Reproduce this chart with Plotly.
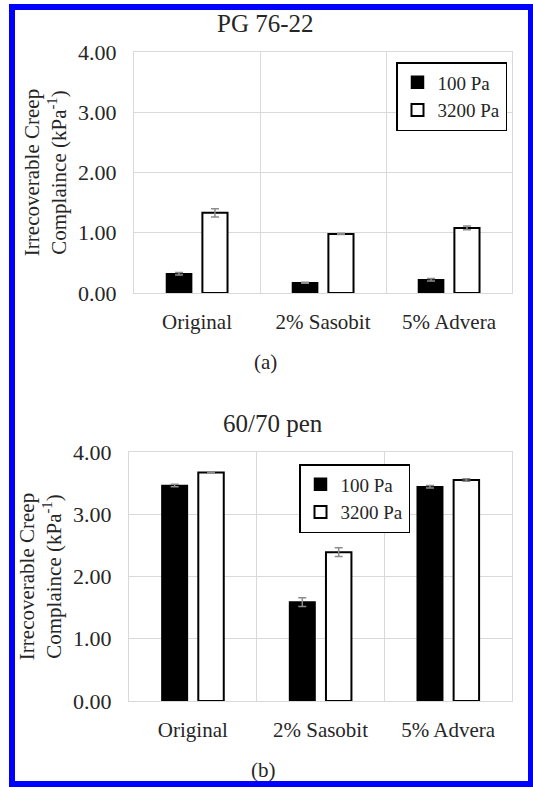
import plotly.graph_objects as go

categories = ["Original", "2% Sasobit", "5% Advera"]
series_names = ["100 Pa", "3200 Pa"]

pg_100 = [0.32, 0.17, 0.22]
pg_100_err = [0.02, 0.01, 0.02]
pg_3200 = [1.33, 0.98, 1.08]
pg_3200_err = [0.07, 0.01, 0.03]

pen_100 = [3.46, 1.59, 3.44]
pen_100_err = [0.02, 0.07, 0.02]
pen_3200 = [3.67, 2.39, 3.55]
pen_3200_err = [0.01, 0.07, 0.02]

y_ticks = [0, 1, 2, 3, 4]

W, H = 533, 787
FONT = "Liberation Serif, DejaVu Serif"
TXT = "#262626"
GRID = "#d9d9d9"
ERR = "#8c8c8c"

xpos = list(range(len(categories)))

fig = go.Figure()


def add_pair(v1, e1, v2, e2, xa, ya, legend, show):
    fig.add_trace(go.Bar(
        x=xpos, y=v1, name=series_names[0], xaxis=xa, yaxis=ya, legend=legend,
        marker=dict(color="black", line=dict(color="black", width=1.5)),
        error_y=dict(type="data", array=e1, color=ERR, thickness=1.5, width=4),
        showlegend=show,
    ))
    fig.add_trace(go.Bar(
        x=xpos, y=v2, name=series_names[1], xaxis=xa, yaxis=ya, legend=legend,
        marker=dict(color="white", line=dict(color="black", width=2)),
        error_y=dict(type="data", array=e2, color=ERR, thickness=1.5, width=4),
        showlegend=show,
    ))


add_pair(pg_100, pg_100_err, pg_3200, pg_3200_err, "x", "y", "legend", True)
add_pair(pen_100, pen_100_err, pen_3200, pen_3200_err, "x2", "y2", "legend2", True)


def px_x(p):
    return p / W


def px_y(p):
    return 1 - p / H


xaxis_common = dict(
    range=[-0.5, 2.5], tickmode="array", tickvals=xpos, ticktext=categories,
    showgrid=False, zeroline=False, showline=True, mirror=True, linecolor=GRID, linewidth=1,
    minor=dict(tick0=-0.5, dtick=1, showgrid=True, gridcolor=GRID, gridwidth=1),
    tickfont=dict(family=FONT, size=21, color=TXT), ticks="", ticklabelstandoff=10,
    automargin=False, fixedrange=True,
)
yaxis_common = dict(
    range=[0, 4], tickmode="array", tickvals=y_ticks, tickformat=".2f",
    showgrid=True, gridcolor=GRID, gridwidth=1, zeroline=False,
    showline=True, mirror=True, linecolor=GRID, linewidth=1,
    tickfont=dict(family=FONT, size=22, color=TXT), ticks="", ticklabelstandoff=12,
    title=dict(text="Irrecoverable Creep<br>Complaince (kPa<sup>-1</sup>)",
               font=dict(family=FONT, size=21, color=TXT), standoff=5),
    automargin=False, fixedrange=True,
)

fig.update_layout(
    width=W, height=H,
    margin=dict(l=0, r=0, t=0, b=0),
    paper_bgcolor="white", plot_bgcolor="white",
    font=dict(family=FONT, color=TXT),
    barmode="group", bargap=0.43, bargroupgap=0.3,
    xaxis=dict(domain=[px_x(134), px_x(512)], anchor="y", **xaxis_common),
    yaxis=dict(domain=[px_y(293), px_y(52)], anchor="x", **yaxis_common),
    xaxis2=dict(domain=[px_x(129), px_x(512)], anchor="y2", **xaxis_common),
    yaxis2=dict(domain=[px_y(701), px_y(452)], anchor="x2", **yaxis_common),
    legend=dict(x=px_x(396), y=px_y(62), xanchor="left", yanchor="top",
                bgcolor="white", bordercolor="black", borderwidth=1.5,
                font=dict(family=FONT, size=19, color=TXT), tracegroupgap=2),
    legend2=dict(x=px_x(299), y=px_y(464), xanchor="left", yanchor="top",
                 bgcolor="white", bordercolor="black", borderwidth=1.5,
                 font=dict(family=FONT, size=19, color=TXT), tracegroupgap=2),
    showlegend=True,
    annotations=[
        dict(text="PG 76-22", x=px_x(265), y=px_y(23), xref="paper", yref="paper",
             xanchor="center", yanchor="middle",
             showarrow=False, font=dict(family=FONT, size=25, color=TXT)),
        dict(text="60/70 pen", x=px_x(273), y=px_y(423), xref="paper", yref="paper",
             xanchor="center", yanchor="middle",
             showarrow=False, font=dict(family=FONT, size=25, color=TXT)),
        dict(text="(a)", x=px_x(265), y=px_y(362), xref="paper", yref="paper",
             xanchor="center", yanchor="middle",
             showarrow=False, font=dict(family=FONT, size=21, color=TXT)),
        dict(text="(b)", x=px_x(263), y=px_y(770), xref="paper", yref="paper",
             xanchor="center", yanchor="middle",
             showarrow=False, font=dict(family=FONT, size=21, color=TXT)),
    ],
    shapes=[
        dict(type="rect", xref="paper", yref="paper",
             x0=px_x(12), x1=px_x(531), y0=px_y(784), y1=px_y(7),
             line=dict(color="#0000ff", width=6), fillcolor="rgba(0,0,0,0)", layer="above"),
    ],
)

fig.write_html("out.html")
